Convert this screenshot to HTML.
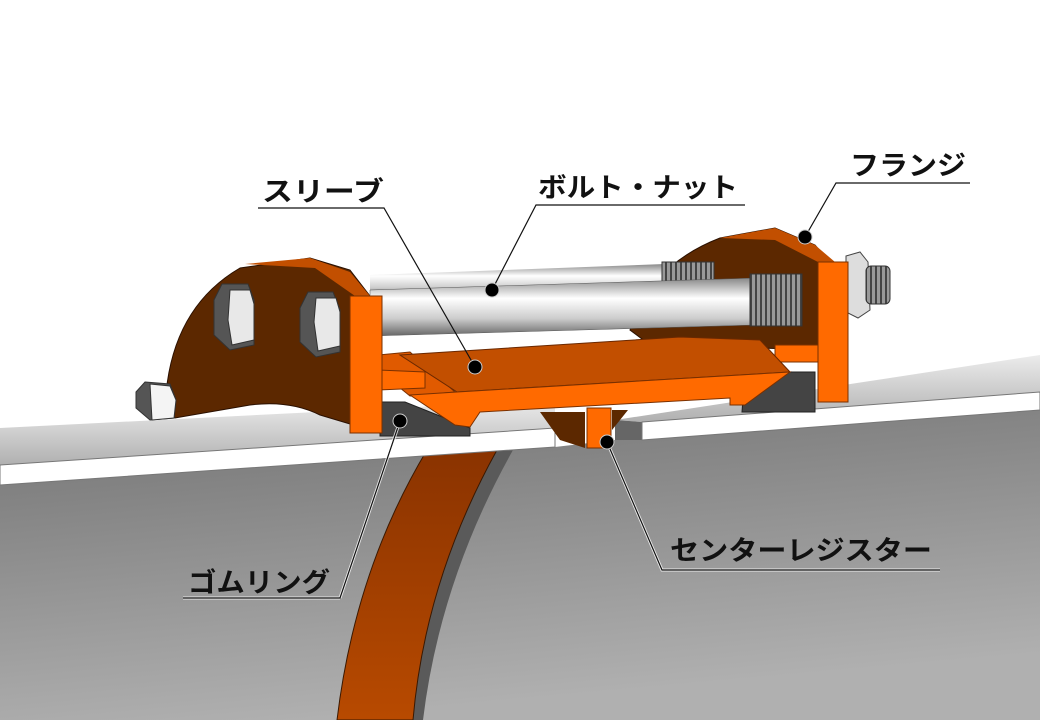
<!DOCTYPE html>
<html><head><meta charset="utf-8"><style>
html,body{margin:0;padding:0;background:#fff}
svg{display:block}
text{font-family:"Liberation Sans","Noto Sans CJK JP",sans-serif;font-weight:bold;font-size:27px;fill:#111}
</style></head><body>
<svg width="1040" height="720" viewBox="0 0 1040 720" xmlns="http://www.w3.org/2000/svg">
<defs>
<linearGradient id="body" x1="0" y1="0" x2="0.3" y2="1"><stop offset="0" stop-color="#737373"/><stop offset="1" stop-color="#b0b0b0"/></linearGradient>
<linearGradient id="ptop" x1="0" y1="0" x2="0" y2="1"><stop offset="0" stop-color="#ececec"/><stop offset="1" stop-color="#b0b0b0"/></linearGradient>
<linearGradient id="bolt" x1="0" y1="0" x2="0" y2="1"><stop offset="0" stop-color="#888"/><stop offset="0.35" stop-color="#fff"/><stop offset="0.7" stop-color="#ccc"/><stop offset="1" stop-color="#666"/></linearGradient>
<pattern id="thp" width="5" height="60" patternUnits="userSpaceOnUse"><rect width="5" height="60" fill="#999"/><rect width="2" height="60" fill="#444"/></pattern>
<linearGradient id="strap" x1="0" y1="0" x2="0" y2="1"><stop offset="0" stop-color="#8a3300"/><stop offset="1" stop-color="#b84a00"/></linearGradient>
</defs>
<rect width="1040" height="720" fill="#fff"/>
<polygon points="0,485 555,447 615,440 642,440 1040,410 1040,720 0,720" fill="url(#body)"/>
<path d="M497,450 L513,450 Q440,580 423,720 L413,720 Q425,580 497,450 Z" fill="#5a5a5a"/>
<path d="M427,450 L497,450 Q425,580 413,720 L337,720 Q355,570 427,450 Z" fill="url(#strap)" stroke="#3a1800" stroke-width="1"/>
<polygon points="0,428 555,400 555,428 0,465" fill="url(#ptop)"/>
<polygon points="0,465 555,428 555,447 0,485" fill="#fff" stroke="#777" stroke-width="1"/>
<polygon points="615,420 1040,355 1040,392 642,422" fill="url(#ptop)"/>
<polygon points="615,420 642,422 642,440 615,440" fill="#666"/>
<polygon points="642,422 1040,392 1040,410 642,440" fill="#fff" stroke="#777" stroke-width="1"/>
<path d="M165,410 Q168,310 240,268 L310,258 L350,270 L370,296 L370,430 L320,415 Q290,400 250,405 L175,418 Z" fill="#5c2800" stroke="#2a1000"/>
<polygon points="245,264 310,258 350,272 370,296 355,296 315,268" fill="#c24f00"/>
<g stroke="#333" stroke-width="1">
<polygon points="222,284 248,284 254,300 254,345 230,350 214,335 214,300" fill="#555"/>
<polygon points="230,290 250,290 254,304 254,340 232,345 228,320" fill="#e8e8e8"/>
<polygon points="308,292 333,292 340,310 340,352 316,357 300,342 300,308" fill="#555"/>
<polygon points="316,298 336,298 340,312 340,346 318,351 314,322" fill="#e8e8e8"/>
<polygon points="145,382 170,384 176,400 174,418 150,420 136,408 136,392" fill="#555"/>
<polygon points="150,384 170,386 176,400 174,418 152,420" fill="#f4f4f4"/>
</g>
<path d="M630,330 Q650,265 720,238 L775,228 L815,245 L830,262 L830,350 L650,345 Z" fill="#5c2800" stroke="#2a1000"/>
<polygon points="720,238 775,228 815,245 835,262 818,262 775,240" fill="#c24f00"/>
<polygon points="370,275 665,264 665,288 370,298" fill="url(#bolt)"/>
<rect x="662" y="262" width="52" height="22" fill="url(#thp)" stroke="#333"/>
<polygon points="370,290 755,278 755,325 370,336" fill="url(#bolt)" stroke="#555" stroke-width="0.5"/>
<rect x="750" y="274" width="52" height="52" fill="url(#thp)" stroke="#333"/>
<polygon points="846,256 860,252 868,262 870,310 858,318 846,312" fill="#ddd" stroke="#444"/>
<rect x="866" y="266" width="24" height="38" fill="url(#thp)" stroke="#333" rx="5"/>
<polygon points="380,402 405,402 470,428 470,436 380,436" fill="#444" stroke="#222"/>
<polygon points="745,372 815,372 815,412 742,412" fill="#444" stroke="#222"/>
<polygon points="775,345 820,345 820,362 775,362" fill="#ff6a00" stroke="#7a3000"/>
<polygon points="378,355 410,352 455,392 410,396 378,370" fill="#e05a00" stroke="#7a3000"/>
<polygon points="378,370 425,372 425,388 378,390" fill="#ff6a00" stroke="#7a3000"/>
<polygon points="400,355 680,337 760,340 790,372 457,392" fill="#c24f00" stroke="#6a2800"/>
<polygon points="410,395 457,392 790,372 745,405 730,405 730,398 480,412 470,427 455,425" fill="#ff6a00" stroke="#7a3000"/>
<polygon points="540,412 585,412 585,448 560,440" fill="#5c2800"/>
<polygon points="612,410 628,410 612,430" fill="#5c2800"/>
<rect x="587" y="408" width="24" height="40" fill="#ff6a00" stroke="#7a3000"/>
<rect x="350" y="296" width="32" height="137" fill="#ff6a00" stroke="#7a3000"/>
<rect x="818" y="262" width="30" height="140" fill="#ff6a00" stroke="#7a3000"/>
<g fill="none" stroke-width="3" stroke="#fff" opacity="0.8">
<polyline points="340,598 183,598"/><polyline points="340,598 400,421"/>
<polyline points="607,442 662,570 940,570"/>
</g>
<g fill="none" stroke="#111" stroke-width="1.2">
<polyline points="258,208 384,208 475,367"/>
<polyline points="745,205 536,205 492,290"/>
<polyline points="970,183 836,183 805,237"/>
<polyline points="183,598 340,598 400,421"/>
<polyline points="607,442 662,570 940,570"/>
</g>
<g fill="#000" stroke="#ccc" stroke-width="1">
<circle cx="475" cy="367" r="7"/><circle cx="492" cy="290" r="7"/><circle cx="805" cy="237" r="7"/><circle cx="400" cy="421" r="7"/><circle cx="607" cy="442" r="7"/>
</g>
<text x="262" y="201" textLength="122" lengthAdjust="spacingAndGlyphs">スリーブ</text>
<text x="538" y="197" textLength="200" lengthAdjust="spacingAndGlyphs">ボルト・ナット</text>
<text x="850" y="175" textLength="116" lengthAdjust="spacingAndGlyphs">フランジ</text>
<text x="188" y="592" textLength="142" lengthAdjust="spacingAndGlyphs">ゴムリング</text>
<text x="670" y="560" textLength="262" lengthAdjust="spacingAndGlyphs">センターレジスター</text>
</svg>
</body></html>
